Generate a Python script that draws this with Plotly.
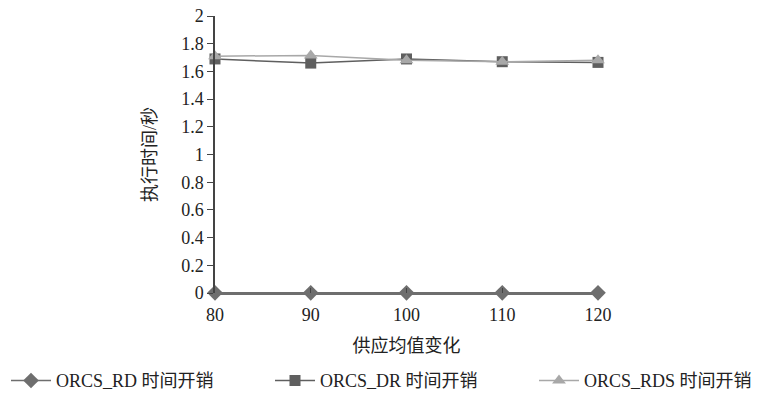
import plotly.graph_objects as go

x_vals = [80, 90, 100, 110, 120]
rd = [0.001, 0.001, 0.001, 0.001, 0.001]
dr = [1.69, 1.66, 1.69, 1.67, 1.665]
rds = [1.71, 1.715, 1.68, 1.67, 1.68]
names = ["ORCS_RD 时间开销", "ORCS_DR 时间开销", "ORCS_RDS 时间开销"]
y_ticks = [0, 0.2, 0.4, 0.6, 0.8, 1, 1.2, 1.4, 1.6, 1.8, 2]

font_family = "Liberation Serif, Noto Sans CJK SC"

fig = go.Figure()
fig.add_trace(go.Scatter(x=x_vals, y=rd, name=names[0], mode="lines+markers",
                         line=dict(color="#6e6e6e", width=1.5),
                         marker=dict(symbol="diamond", size=12, color="#6e6e6e"),
                         cliponaxis=False, legend="legend"))
fig.add_trace(go.Scatter(x=x_vals, y=dr, name=names[1], mode="lines+markers",
                         line=dict(color="#5f5f5f", width=1.5),
                         marker=dict(symbol="square", size=11, color="#5f5f5f"),
                         cliponaxis=False, legend="legend2"))
fig.add_trace(go.Scatter(x=x_vals, y=rds, name=names[2], mode="lines+markers",
                         line=dict(color="#a8a8a8", width=1.5),
                         marker=dict(symbol="triangle-up", size=12, color="#a8a8a8"),
                         cliponaxis=False, legend="legend3"))

def leg(xpx):
    return dict(x=(xpx - 215) / 383, xanchor="left", y=-0.25, yanchor="top",
                orientation="h", font=dict(size=18, family=font_family),
                bgcolor="rgba(0,0,0,0)", itemwidth=40)

fig.update_layout(
    width=782, height=393,
    margin=dict(l=215, r=184, t=16, b=100, autoexpand=False),
    paper_bgcolor="white", plot_bgcolor="white",
    font=dict(family=font_family, size=18, color="#222222"),
    showlegend=True,
    legend=leg(6), legend2=leg(270), legend3=leg(534),
)
fig.update_xaxes(range=[80, 120], tickvals=x_vals, showgrid=False, zeroline=False,
                 showline=True, linecolor="#6e6e6e", linewidth=1.5,
                 ticks="inside", ticklen=5, tickcolor="#444444",
                 ticklabelstandoff=5,
                 title=dict(text="供应均值变化", standoff=15, font=dict(size=18)),
                 tickfont=dict(size=18))
fig.update_yaxes(range=[0, 2], tickvals=y_ticks, showgrid=False, zeroline=False,
                 showline=True, linecolor="#444444", linewidth=1.5,
                 ticks="outside", ticklen=6, tickcolor="#444444",
                 title=dict(text="执行时间/秒", standoff=20, font=dict(size=18)),
                 tickfont=dict(size=18))

fig.write_html("out.html")
